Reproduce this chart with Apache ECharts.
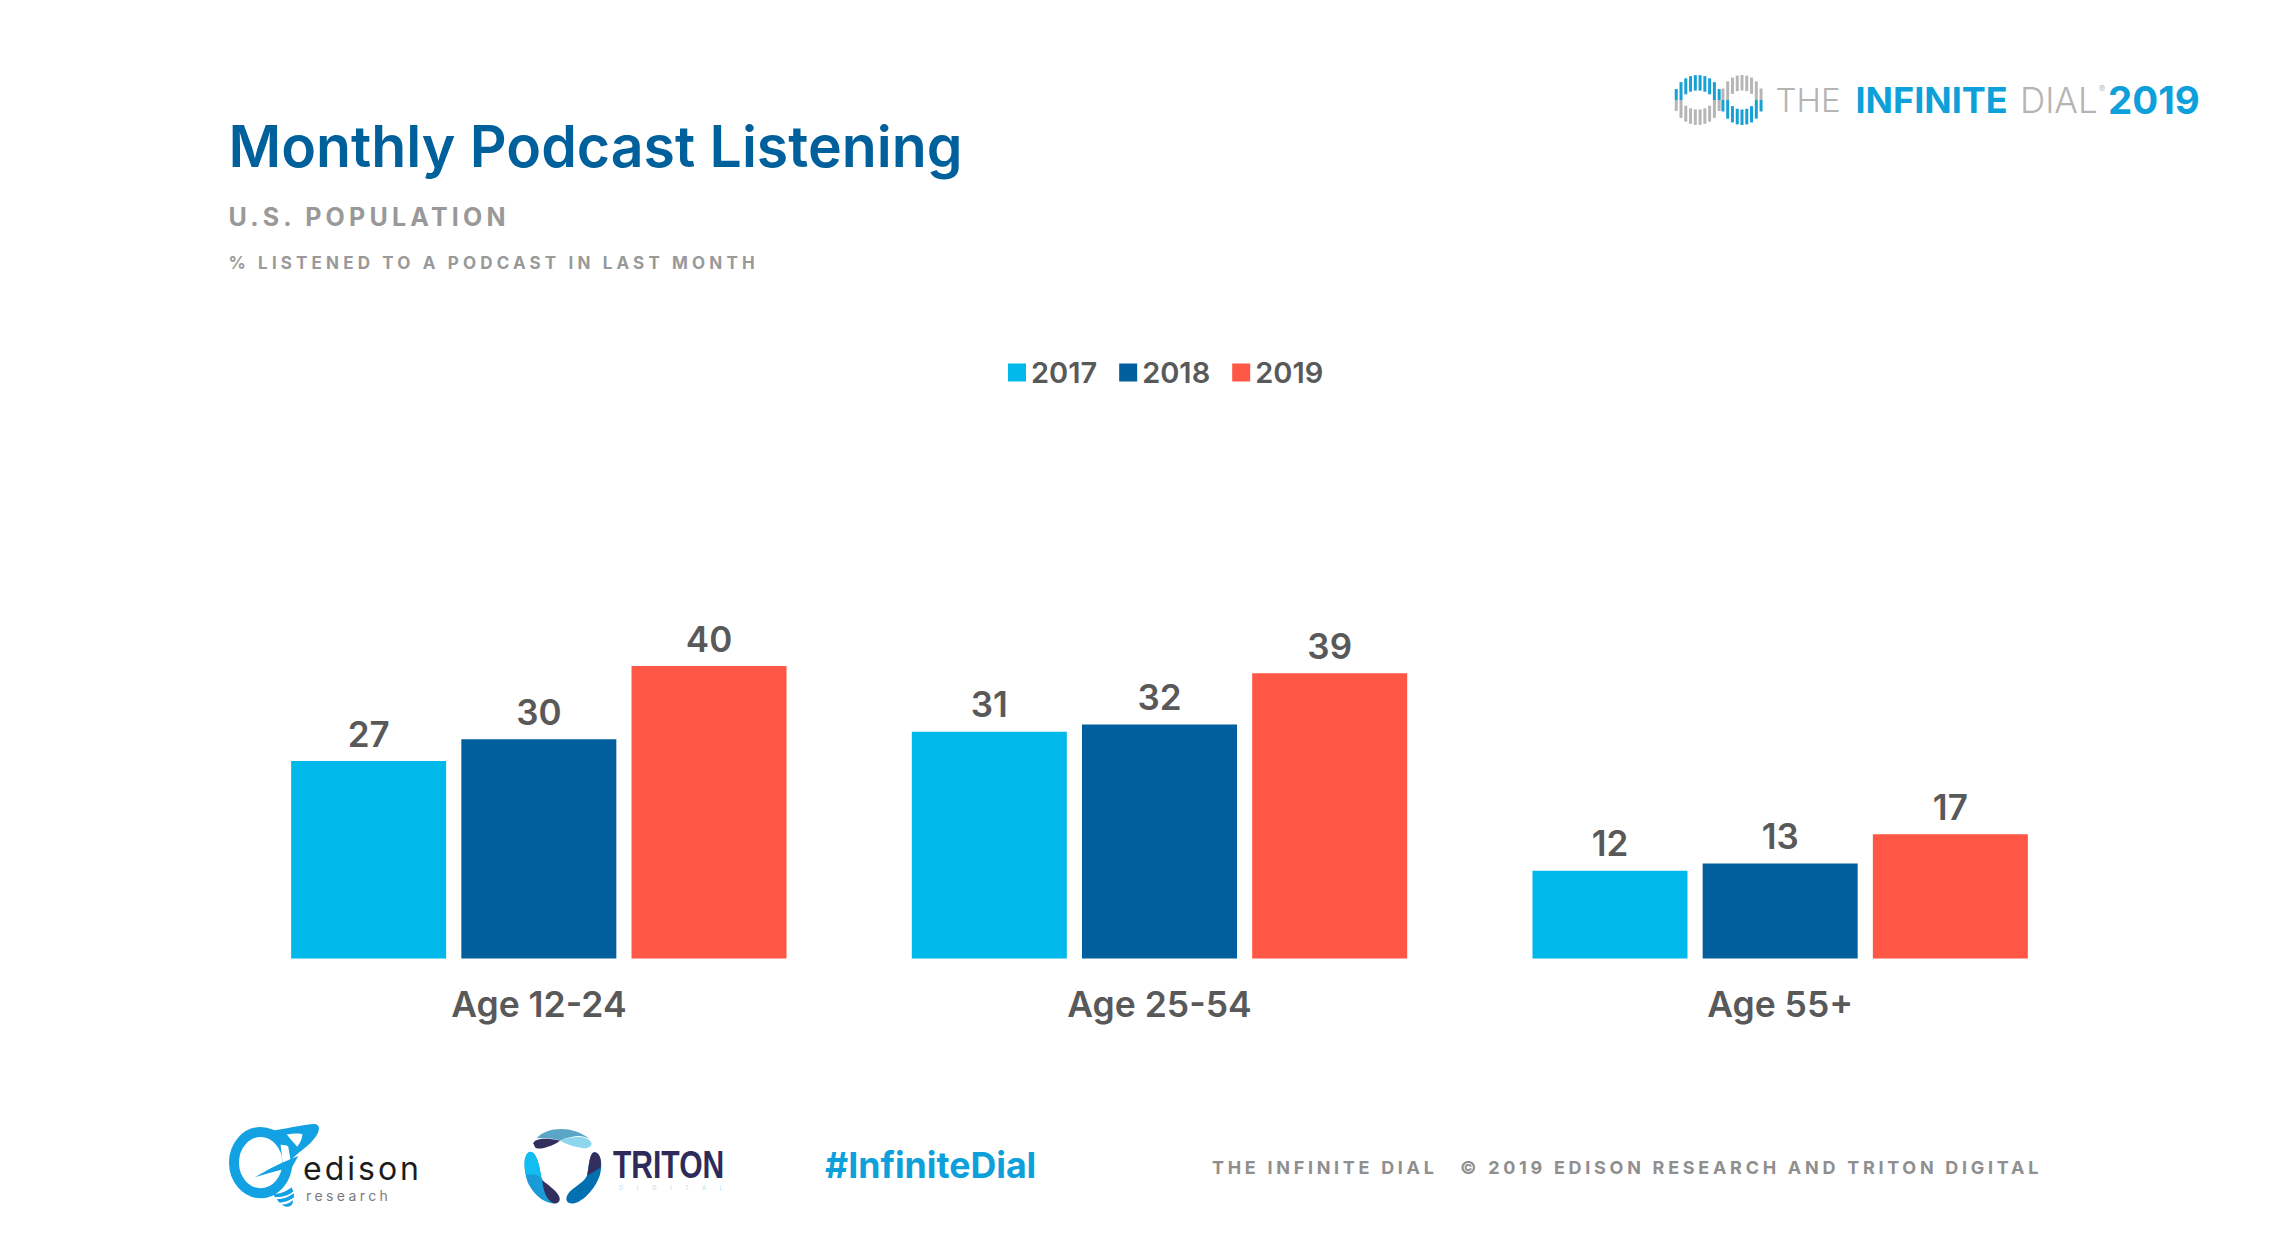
<!DOCTYPE html>
<html>
<head>
<meta charset="utf-8">
<title>Monthly Podcast Listening</title>
<script src="https://cdn.jsdelivr.net/npm/echarts@6/dist/echarts.min.js"></script>
<style>
html,body{margin:0;padding:0;background:#fff;}
#chart{width:2276px;height:1254px;}
</style>
</head>
<body>
<div id="chart"></div>
<script>
// data
var categories = ['Age 12-24', 'Age 25-54', 'Age 55+'];
var years = ['2017', '2018', '2019'];
var values2017 = [27, 31, 12];
var values2018 = [30, 32, 13];
var values2019 = [40, 39, 17];

var FONT = 'Inter';
var textGrey = '#595959';
var labelGrey = '#999999';
var blue = '#0ea0da';
var barColors = ['#00b8ea', '#005f9c', '#ff5745'];

function txt(x, y, text, size, color, weight, family) {
    return {
        type: 'text', x: x, y: y, silent: true,
        style: {
            text: text, fontSize: size, fill: color, fontWeight: weight || 400,
            fontFamily: family || FONT, textAlign: 'left', textVerticalAlign: 'middle'
        }
    };
}
// logo pieces: the graphic component only knows registered shape names
var shapeCount = 0;
function shape(d, color) {
    var name = 'logoShape' + (shapeCount++);
    echarts.graphic.registerShape(name, echarts.graphic.extendPath(d, {}));
    return {type: name, silent: true, style: {fill: color}};
}

// infinity rings of the top logo, made of short vertical strokes
function ringBars(cx, cy, count, topColor, bottomColor) {
    var out = [];
    var step = 4.77;
    var rx = (count - 1) / 2 * step + 2.4;
    var holeX = rx - 9;
    for (var i = 0; i < count; i++) {
        var dx = (i - (count - 1) / 2) * step;
        var outer = 25 * Math.sqrt(1 - dx * dx / (rx * rx));
        var inner = Math.abs(dx) < holeX ? 9.5 * Math.sqrt(1 - dx * dx / (holeX * holeX)) : 0;
        out.push({type: 'line', silent: true, shape: {x1: cx + dx, y1: cy - outer, x2: cx + dx, y2: cy - inner}, style: {stroke: topColor, lineWidth: 3}});
        out.push({type: 'line', silent: true, shape: {x1: cx + dx, y1: cy + inner, x2: cx + dx, y2: cy + outer}, style: {stroke: bottomColor, lineWidth: 3}});
    }
    return out;
}

// logo outlines are in 3x crop coordinates, hence the scale
var edisonMark = {
    type: 'group', x: 220, y: 1110, scaleX: 1 / 3, scaleY: 1 / 3,
    children: [
        {type: 'ellipse', silent: true, shape: {cx: 122, cy: 158, rx: 80, ry: 92}, style: {fill: 'none', stroke: '#12a2e3', lineWidth: 30}},
        shape('M182 104 L228 108 L238 138 L188 160 Z', '#ffffff'),
        shape('M150 62 C190 60 250 42 285 42 C305 45 300 70 275 95 C255 115 235 128 212 150 L205 110 Z', '#12a2e3'),
        shape('M200 73 C215 72 235 68 247 72 C248 85 240 100 232 110 C222 100 210 85 200 73 Z', '#ffffff'),
        shape('M105 202 C140 180 190 155 235 138 C225 155 215 175 205 195 C210 180 200 178 190 178 C160 185 130 195 105 202 Z', '#12a2e3'),
        shape('M160 252 C180 252 200 245 215 232 L220 245 C205 258 185 262 165 262 Z', '#12a2e3'),
        shape('M170 268 C190 268 205 262 222 250 L222 262 C210 272 190 278 178 278 Z', '#12a2e3'),
        shape('M185 284 C200 284 212 278 218 270 C222 285 210 292 195 290 Z', '#12a2e3')
    ]
};
var tritonMark = {
    type: 'group', x: 510, y: 1110, scaleX: 1 / 3, scaleY: 1 / 3,
    children: [
        shape('M80 85 C110 50 190 45 240 88 C210 70 180 80 150 92 C130 85 100 82 80 85 Z', '#5ba6c6'),
        shape('M70 100 C75 85 105 82 150 92 C125 110 85 122 75 112 Z', '#322f5e'),
        shape('M150 92 C185 78 235 75 245 100 C245 115 225 118 205 112 C185 108 165 100 150 92 Z', '#8ed6ee'),
        shape('M60 125 C40 130 38 190 60 230 C80 265 115 285 140 280 C155 272 150 255 130 240 C110 225 100 215 95 205 C88 165 80 125 60 125 Z', '#1a9ad6'),
        shape('M60 125 C40 130 40 170 50 195 C65 190 85 195 95 205 C88 165 80 125 60 125 Z', '#12bdf2'),
        shape('M97 212 C115 225 135 240 145 255 C155 272 145 282 130 280 C110 270 100 245 97 212 Z', '#322f5e'),
        shape('M255 127 C275 130 278 170 270 195 C255 240 215 280 185 281 C165 280 165 260 180 245 C200 225 225 215 232 195 C238 160 240 125 255 127 Z', '#0270b0'),
        shape('M255 127 C272 130 275 155 272 172 C262 180 245 190 232 197 C238 160 240 125 255 127 Z', '#322f5e')
    ]
};
var tritonWord = txt(613, 1165, 'TRITON', 38, '#2e2a5a', 700, 'Liberation Sans');
tritonWord.scaleX = 0.79;

var decor = [
    txt(228.5, 146, 'Monthly Podcast Listening', 57.2, '#00609c', 600),
    txt(228.5, 217, 'U.S. POPULATION', 25, labelGrey, 700),
    txt(228.5, 263, '% LISTENED TO A PODCAST IN LAST MONTH', 17, labelGrey, 700),

    txt(1775.5, 100, 'THE', 33, '#b4b4b4', 300),
    txt(1855.5, 100, 'INFINITE', 36, blue, 700),
    txt(2020, 100, 'DIAL', 35, '#b4b4b4', 300),
    txt(2099, 88, '®', 9, '#b4b4b4', 400),
    txt(2108, 100, '2019', 38.5, blue, 700),

    edisonMark,
    txt(303, 1168, 'edison', 32, '#1c1c1c', 400),
    txt(306, 1195, 'research', 14, '#7a7a7a', 400),

    tritonMark,
    tritonWord,
    txt(619, 1187, 'DIGITAL', 6, '#b5dff0', 400),

    txt(825, 1165, '#InfiniteDial', 35.7, blue, 700),
    txt(1212, 1167, 'THE INFINITE DIAL', 18, '#8f8f8f', 700),
    txt(1460, 1167, '© 2019 EDISON RESEARCH AND TRITON DIGITAL', 18, '#8f8f8f', 700)
].concat(ringBars(1697.7, 100, 10, '#17a0d4', '#b6b6b6'), ringBars(1742, 100, 9, '#b6b6b6', '#17a0d4'));

var allValues = [values2017, values2018, values2019];
var seriesArr = [];
for (var i = 0; i < years.length; i++) {
    seriesArr.push({
        name: years[i],
        type: 'bar',
        data: allValues[i],
        barWidth: 155,
        barGap: '9.8%',
        itemStyle: {color: barColors[i]},
        label: {
            show: true, position: 'top', distance: 10,
            color: textGrey, fontFamily: FONT, fontSize: 35, fontWeight: 600
        }
    });
}

var myChart = echarts.init(document.getElementById('chart'), null, {renderer: 'svg'});
myChart.setOption({
    animation: false,
    backgroundColor: '#ffffff',
    color: barColors,
    grid: {left: 228.5, width: 1862, top: 373.5, height: 585},
    legend: {
        data: years, left: 1003, top: 353,
        itemWidth: 18, itemHeight: 18, itemGap: 22,
        icon: 'rect', selectedMode: false,
        textStyle: {color: textGrey, fontFamily: FONT, fontSize: 29, fontWeight: 600}
    },
    xAxis: {
        type: 'category', data: categories,
        axisLine: {show: false}, axisTick: {show: false},
        axisLabel: {color: textGrey, fontFamily: FONT, fontSize: 35.5, fontWeight: 600, margin: 28}
    },
    yAxis: {type: 'value', min: 0, max: 80, show: false},
    graphic: {elements: decor},
    series: seriesArr
});

// zrender text has no letter spacing, so put it on the svg text nodes
var tracking = {
    'U.S. POPULATION': '4.2px',
    '% LISTENED TO A PODCAST IN LAST MONTH': '4.16px',
    'THE INFINITE DIAL': '3.7px',
    '© 2019 EDISON RESEARCH AND TRITON DIGITAL': '3.72px',
    'edison': '3px',
    'research': '3.4px',
    'DIGITAL': '13.5px'
};
function applyTracking() {
    var nodes = document.querySelectorAll('#chart svg text');
    for (var n = 0; n < nodes.length; n++) {
        var sp = tracking[nodes[n].textContent];
        if (sp) nodes[n].setAttribute('letter-spacing', sp);
    }
}
myChart.on('finished', applyTracking);
applyTracking();
</script>
</body>
</html>
